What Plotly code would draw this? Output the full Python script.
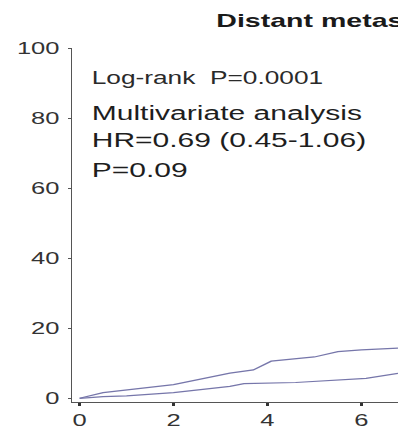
import plotly.graph_objects as go

# Cumulative incidence of distant metastasis (%) by follow-up year
years_a = [0, 0.5, 2.0, 3.2, 3.7, 4.08, 5.0, 5.5, 6.0, 6.78]
pct_a = [0, 1.6, 3.9, 7.2, 8.1, 10.6, 11.8, 13.3, 13.8, 14.3]

years_b = [0, 0.5, 1.0, 2.0, 3.2, 3.5, 4.6, 5.4, 6.1, 6.78]
pct_b = [0, 0.5, 0.7, 1.6, 3.4, 4.2, 4.5, 5.2, 5.7, 7.1]

x_ticks = [0, 2, 4, 6]
y_ticks = [0, 20, 40, 60, 80, 100]

title_text = "Distant metastasis"
logrank_text = "Log-rank  P=0.0001"
multi_lines = ["Multivariate analysis", "HR=0.69 (0.45-1.06)", "P=0.09"]

# the figure is laid out narrow and widened horizontally on the page
STRETCH = 398 / 265
FONT = "Liberation Sans, Arial, Helvetica, sans-serif"
LINE_COLOR = "#7676aa"
AXIS_COLOR = "#555555"

fig = go.Figure()
for xs, ys in ((years_a, pct_a), (years_b, pct_b)):
    fig.add_trace(go.Scatter(
        x=xs, y=ys, mode="lines",
        line=dict(color=LINE_COLOR, width=1.2),
        showlegend=False, hoverinfo="skip",
    ))

fig.update_layout(
    width=265, height=433,
    margin=dict(l=47.6, r=0, t=48, b=31.3, autoexpand=False),
    paper_bgcolor="white", plot_bgcolor="white",
    font=dict(family=FONT, color="#2a2a2a"),
)

fig.update_xaxes(
    range=[-0.16, 6.78], tickvals=x_ticks,
    showline=True, linecolor=AXIS_COLOR, linewidth=1,
    ticks="outside", ticklen=3, tickwidth=2, tickcolor="#333333",
    showgrid=False, zeroline=False,
    tickfont=dict(family=FONT, size=17, color="#333333"),
)
fig.update_yaxes(
    range=[-1.06, 100], tickvals=y_ticks,
    showline=True, linecolor=AXIS_COLOR, linewidth=1,
    ticks="outside", ticklen=2, tickwidth=1, tickcolor=AXIS_COLOR,
    showgrid=False, zeroline=False,
    tickfont=dict(family=FONT, size=17, color="#333333"),
    ticklabelstandoff=2,
)

fig.add_annotation(
    text="<b>" + title_text + "</b>", xref="paper", yref="paper",
    x=0.433, y=1.079, xanchor="left", yanchor="middle", showarrow=False,
    font=dict(family=FONT, size=19, color="#1a1a1a"),
)
fig.add_annotation(
    text=logrank_text, xref="x", yref="y", x=0.2, y=91.4,
    xanchor="left", yanchor="middle", showarrow=False,
    font=dict(family=FONT, size=17.5, color="#2a2a2a"),
)
for line_text, y_pos in zip(multi_lines, [81.4, 73.6, 65.3]):
    fig.add_annotation(
        text=line_text, xref="x", yref="y", x=0.2, y=y_pos,
        xanchor="left", yanchor="middle", showarrow=False,
        font=dict(family=FONT, size=20, color="#1e1e1e"),
    )

post = (
    "var gd=document.getElementById('{plot_id}');"
    "gd.style.transformOrigin='0 0';"
    "gd.style.transform='scaleX(%.5f)';"
    "document.body.style.overflow='hidden';" % STRETCH
)

fig.write_html("out.html", post_script=post)
